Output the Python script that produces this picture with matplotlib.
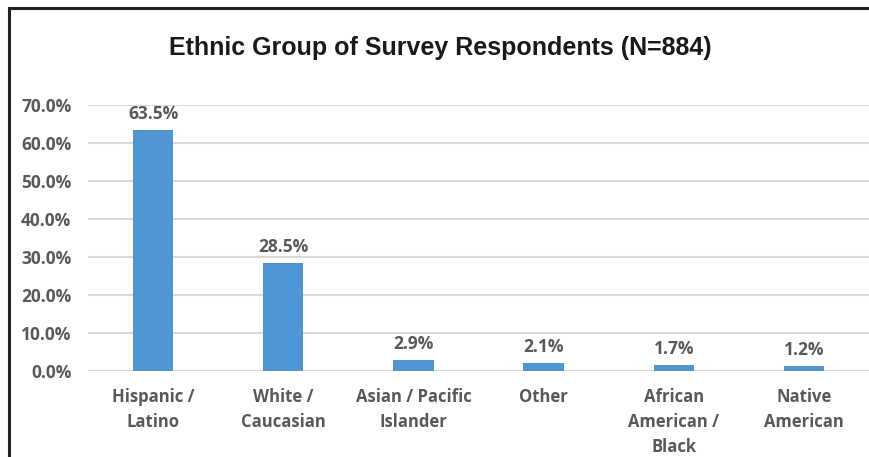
import matplotlib.pyplot as plt
from matplotlib.lines import Line2D
from matplotlib.ticker import FuncFormatter

groups = ["Hispanic /\nLatino", "White /\nCaucasian", "Asian / Pacific\nIslander",
          "Other", "African\nAmerican /\nBlack", "Native\nAmerican"]
shares = [63.5, 28.5, 2.9, 2.1, 1.7, 1.2]
yticks = [0, 10, 20, 30, 40, 50, 60, 70]

BAR = "#5096D2"
GREY = "#595959"
LABEL_FONT = ["Open Sans", "DejaVu Sans"]

fig = plt.figure(figsize=(8.69, 4.57), dpi=100)
ax = fig.add_axes([88 / 869, 1 - 371 / 457, 781 / 869, 266 / 457])

x = range(len(groups))
bars = ax.bar(x, shares, width=0.31, color=BAR, zorder=3)

for rect, val in zip(bars, shares):
    ax.annotate(f"{val:.1f}%", (rect.get_x() + rect.get_width() / 2, val),
                xytext=(0, 5), textcoords="offset points", ha="center", va="bottom",
                fontsize=12.5, fontweight="bold", color=GREY, family=LABEL_FONT)

ax.set_xlim(-0.5, 5.5)
ax.set_ylim(0, 70)
ax.set_yticks(yticks)
ax.yaxis.set_major_formatter(FuncFormatter(lambda v, _: f"{v:.1f}%"))
ax.set_xticks(list(x))
ax.set_xticklabels(groups, linespacing=1.5)
ax.tick_params(axis="both", length=0, labelcolor=GREY)
ax.tick_params(axis="y", pad=12, labelsize=12.5)
ax.tick_params(axis="x", pad=12, labelsize=12)
for lab in ax.get_xticklabels() + ax.get_yticklabels():
    lab.set_fontweight("bold")
    lab.set_family(LABEL_FONT)

ax.grid(axis="y", color="#D9D9D9", linewidth=1.5, zorder=0)
for s in ax.spines.values():
    s.set_visible(False)

fig.text(440 / 869, 1 - 48 / 457, "Ethnic Group of Survey Respondents (N=884)",
         ha="center", va="center", fontsize=18, fontweight="bold",
         family="Liberation Sans", color="#1a1a1a")

# chart frame: left and top edges only
left, top = 8.5 / 869, 1 - 7.5 / 457
fig.add_artist(Line2D([left, left], [0, top], transform=fig.transFigure,
                      color="#222222", linewidth=2.2))
fig.add_artist(Line2D([left, 1], [top, top], transform=fig.transFigure,
                      color="#222222", linewidth=2.2))

fig.savefig("out.png", dpi=100)
